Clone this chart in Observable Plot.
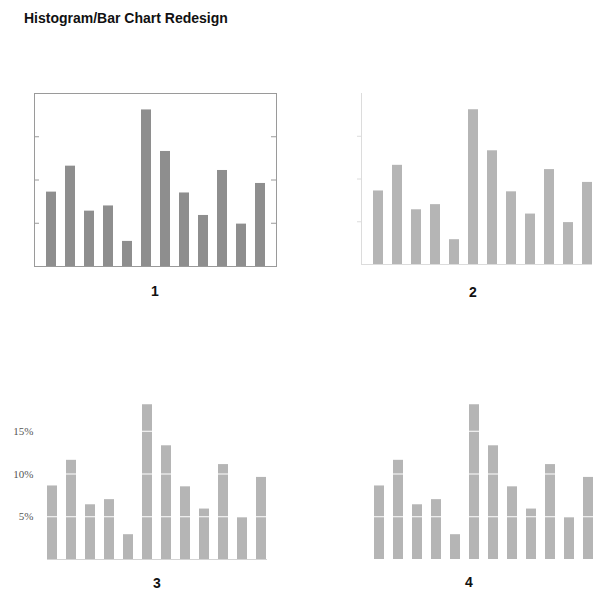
<!DOCTYPE html>
<html>
<head>
<meta charset="utf-8">
<script src="https://cdn.jsdelivr.net/npm/d3@7"></script>
<script src="https://cdn.jsdelivr.net/npm/@observablehq/plot@0.6"></script>
<style>
  html, body { margin: 0; padding: 0; background: #fff; }
  #wrap { position: relative; width: 612px; height: 600px; overflow: hidden; font-family: "Liberation Sans", Arial, sans-serif; }
  .panel { position: absolute; }
  .lbl { position: absolute; font-weight: bold; font-size: 14px; line-height: 16px; transform: translateX(-50%); color: #111; }
  #title { position: absolute; left: 24px; top: 10px; font-weight: bold; font-size: 14px; line-height: 16px; color: #111; }
</style>
</head>
<body>
<div id="wrap">
  <div id="title">Histogram/Bar Chart Redesign</div>
</div>
<script>
const categories = [1, 2, 3, 4, 5, 6, 7, 8, 9, 10, 11, 12];
const values = [8.6, 11.6, 6.4, 7.0, 2.9, 18.1, 13.3, 8.5, 5.9, 11.1, 4.9, 9.6];
const ticks = [5, 10, 15];
const tickLabels = ["5%", "10%", "15%"];
const panelLabels = ["1", "2", "3", "4"];

const data = categories.map((c, i) => ({cat: c, value: values[i]}));
const wrap = document.getElementById("wrap");

function place(el, left, top) {
  el.classList.add("panel");
  el.style.left = left + "px";
  el.style.top = top + "px";
  wrap.appendChild(el);
}
function label(text, x, y) {
  const d = document.createElement("div");
  d.className = "lbl";
  d.textContent = text;
  d.style.left = x + "px";
  d.style.top = y + "px";
  wrap.appendChild(d);
}
const xBase = {type: "band", domain: categories, paddingInner: 0.5, paddingOuter: 0.25, axis: null};

// Panel 1: framed chart with inward ticks on both sides
const p1 = Plot.plot({
  width: 306, height: 250,
  marginLeft: 34, marginRight: 30, marginTop: 33, marginBottom: 44,
  x: {...xBase, range: [40.45, 269.55]},
  y: {domain: [0, 20], axis: null},
  marks: [
    Plot.barY(data, {x: "cat", y: "value", fill: "#8e8e8e"}),
    Plot.ruleY(ticks, {stroke: "#9a9a9a", insetRight: 237}),
    Plot.ruleY(ticks, {stroke: "#9a9a9a", insetLeft: 237}),
    Plot.frame({stroke: "#9a9a9a"})
  ]
});
place(p1, 0, 60);
label(panelLabels[0], 155, 283);

// Panel 2: light range frame, no box
const p2 = Plot.plot({
  width: 306, height: 250,
  marginLeft: 55, marginRight: 20, marginTop: 33, marginBottom: 46,
  x: {...xBase, range: [61.45, 290.55]},
  y: {domain: [0, 20], axis: null},
  marks: [
    Plot.frame({anchor: "left", stroke: "#dcdcdc"}),
    Plot.ruleY(ticks, {stroke: "#dcdcdc", insetLeft: -4, insetRight: 231}),
    Plot.ruleY([0], {stroke: "#dcdcdc"}),
    Plot.barY(data, {x: "cat", y: "value", fill: "#b5b5b5"})
  ]
});
place(p2, 306, 60);
label(panelLabels[1], 473, 284);

// Panel 3: white grid through bars, percent labels
const p3 = Plot.plot({
  width: 306, height: 210,
  marginLeft: 47, marginRight: 39, marginTop: 18, marginBottom: 21,
  x: {...xBase, range: [41.7, 271.6]},
  y: {domain: [0, 20], axis: null},
  marks: [
    Plot.ruleY([0], {stroke: "#d4d4d4"}),
    Plot.barY(data, {x: "cat", y: "value", fill: "#b5b5b5"}),
    Plot.ruleY(ticks, {stroke: "#ffffff", strokeWidth: 1}),
    Plot.axisY({ticks, label: null, tickSize: 0, tickPadding: 14, tickFormat: (d) => tickLabels[ticks.indexOf(d)],
      fontFamily: "Liberation Serif, Times New Roman, serif", fontSize: 11, fill: "#555"})
  ]
});
place(p3, 0, 370);
label(panelLabels[2], 157, 575);

// Panel 4: white grid through bars only
const p4 = Plot.plot({
  width: 306, height: 210,
  marginLeft: 55, marginRight: 14, marginTop: 18, marginBottom: 21,
  x: {...xBase, range: [62.1, 291.6]},
  y: {domain: [0, 20], axis: null},
  marks: [
    Plot.barY(data, {x: "cat", y: "value", fill: "#b5b5b5"}),
    Plot.ruleY(ticks, {stroke: "#ffffff", strokeWidth: 1})
  ]
});
place(p4, 306, 370);
label(panelLabels[3], 469, 574);
</script>
</body>
</html>
